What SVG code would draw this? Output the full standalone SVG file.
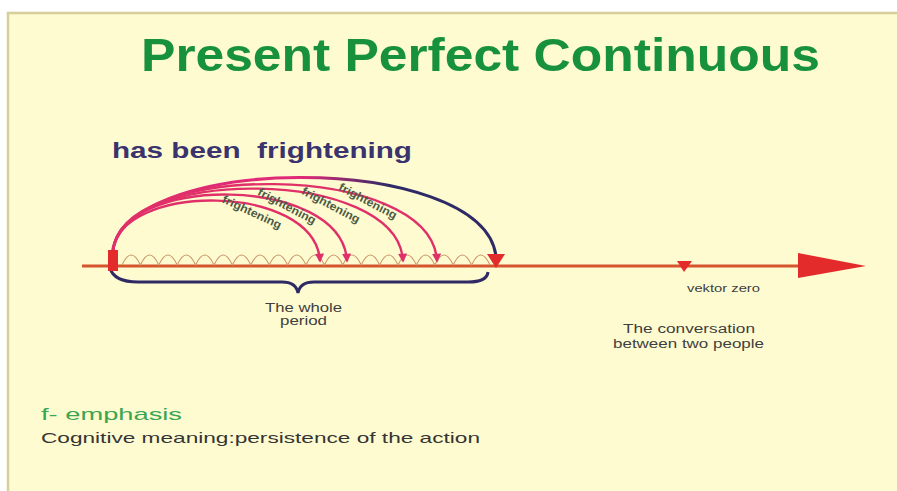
<svg xmlns="http://www.w3.org/2000/svg" width="897" height="491" viewBox="0 0 897 491">
<defs>
<linearGradient id="outerGrad" gradientUnits="userSpaceOnUse" x1="112" y1="0" x2="496" y2="0">
<stop offset="0" stop-color="#e02a78"/>
<stop offset="0.5" stop-color="#e02a78"/>
<stop offset="0.72" stop-color="#2e2a66"/>
<stop offset="1" stop-color="#2e2a66"/>
</linearGradient>
<marker id="ah" viewBox="0 0 10 10" refX="8" refY="5" markerWidth="10" markerHeight="9" orient="auto" markerUnits="userSpaceOnUse">
<path d="M0 0 L10 5 L0 10 z" fill="#e0306a"/>
</marker>
</defs>
<style>
.bg{fill:#fffbd0}
.border{stroke:#d6cf9c;stroke-width:2.5;fill:none}
.arc{fill:none;stroke:#e0306a;stroke-width:2.4;marker-end:url(#ah)}
.lbl{font-family:"Liberation Sans",Arial,sans-serif;font-weight:bold;font-size:11.5px;fill:#4c5a44}
.txt{font-family:"Liberation Sans",Arial,sans-serif;fill:#404040}
.red{fill:#e32b2b}
</style>
<rect x="0" y="0" width="897" height="491" fill="#ffffff"/>
<rect class="bg" x="8" y="12" width="889" height="479"/>
<path class="border" d="M8 491 L8 13 L897 13"/>

<g id="title">
<text x="141" y="71" textLength="679" lengthAdjust="spacingAndGlyphs" style="font-family:'Liberation Sans',Arial,sans-serif;font-weight:bold;font-size:46px;fill:#17913d">Present Perfect Continuous</text>
</g>
<g id="verb">
<text x="112" y="158" textLength="300" lengthAdjust="spacingAndGlyphs" style="font-family:'Liberation Sans',Arial,sans-serif;font-weight:bold;font-size:22px;fill:#3a336e" xml:space="preserve">has been  frightening</text>
</g>

<g id="connectors">
<line x1="82" y1="266" x2="802" y2="266" stroke="#d4552e" stroke-width="3"/>
<path d="M122 265 q4.6 -10 9.2 -10 q4.6 0 9.2 10 q4.6 -10 9.2 -10 q4.6 0 9.2 10 q4.6 -10 9.2 -10 q4.6 0 9.2 10 q4.6 -10 9.2 -10 q4.6 0 9.2 10 q4.6 -10 9.2 -10 q4.6 0 9.2 10 q4.6 -10 9.2 -10 q4.6 0 9.2 10 q4.6 -10 9.2 -10 q4.6 0 9.2 10 q4.6 -10 9.2 -10 q4.6 0 9.2 10 q4.6 -10 9.2 -10 q4.6 0 9.2 10 q4.6 -10 9.2 -10 q4.6 0 9.2 10 q4.6 -10 9.2 -10 q4.6 0 9.2 10 q4.6 -10 9.2 -10 q4.6 0 9.2 10 q4.6 -10 9.2 -10 q4.6 0 9.2 10 q4.6 -10 9.2 -10 q4.6 0 9.2 10 q4.6 -10 9.2 -10 q4.6 0 9.2 10 q4.6 -10 9.2 -10 q4.6 0 9.2 10 q4.6 -10 9.2 -10 q4.6 0 9.2 10 q4.6 -10 9.2 -10 q4.6 0 9.2 10 q4.6 -10 9.2 -10 q4.6 0 9.2 10 q4.6 -10 9.2 -10 q4.6 0 9.2 10" fill="none" stroke="#c99a6c" stroke-width="1.1"/>
<path d="M112 258 C112 152, 482 150, 496 256" fill="none" stroke="url(#outerGrad)" stroke-width="3"/>
<path class="arc" d="M113 252 C118 182, 315 182, 320 261"/>
<path class="arc" d="M113 252 C118 174, 342 174, 347 261"/>
<path class="arc" d="M113 252 C118 166, 398 166, 403 261"/>
<path class="arc" d="M113 252 C118 160, 432 160, 437 261"/>
<path d="M110 268 Q114 282 138 282 L282 282 Q296 282 298 293 Q300 282 314 282 L468 282 Q487 282 488 272" fill="none" stroke="#2e2a66" stroke-width="3"/>
<polygon points="798,253 866,266 798,278" class="red"/>
</g>

<g id="start">
<rect x="108" y="250" width="10" height="21" class="red"/>
</g>
<g id="end">
<polygon points="487,254 505,254 496,268" class="red"/>
</g>
<g id="vektor">
<polygon points="677,261 692,261 684,272" class="red"/>
<text class="txt" x="687" y="292" font-size="10" textLength="73" lengthAdjust="spacingAndGlyphs">vektor zero</text>
</g>

<g id="labels">
<text class="lbl" transform="translate(252,212) rotate(25)" x="-32" y="4" textLength="64" lengthAdjust="spacingAndGlyphs">frightening</text>
<text class="lbl" transform="translate(287,206) rotate(28)" x="-32" y="4" textLength="64" lengthAdjust="spacingAndGlyphs">frightening</text>
<text class="lbl" transform="translate(331,205) rotate(28)" x="-32" y="4" textLength="64" lengthAdjust="spacingAndGlyphs">frightening</text>
<text class="lbl" transform="translate(368,201) rotate(28)" x="-32" y="4" textLength="64" lengthAdjust="spacingAndGlyphs">frightening</text>
</g>

<g id="period">
<text class="txt" x="265" y="312" font-size="12" textLength="77" lengthAdjust="spacingAndGlyphs">The whole</text>
<text class="txt" x="280" y="325" font-size="12" textLength="47" lengthAdjust="spacingAndGlyphs">period</text>
</g>
<g id="conversation">
<text class="txt" x="623" y="333" font-size="12" textLength="132" lengthAdjust="spacingAndGlyphs">The conversation</text>
<text class="txt" x="613" y="348" font-size="12" textLength="151" lengthAdjust="spacingAndGlyphs">between two people</text>
</g>
<g id="notes">
<text x="41" y="420" textLength="141" lengthAdjust="spacingAndGlyphs" style="font-family:'Liberation Sans',Arial,sans-serif;font-size:17px;fill:#3aa552">f- emphasis</text>
<text x="41" y="443" textLength="439" lengthAdjust="spacingAndGlyphs" style="font-family:'Liberation Sans',Arial,sans-serif;font-size:15px;fill:#353535">Cognitive meaning:persistence of the action</text>
</g>
</svg>
